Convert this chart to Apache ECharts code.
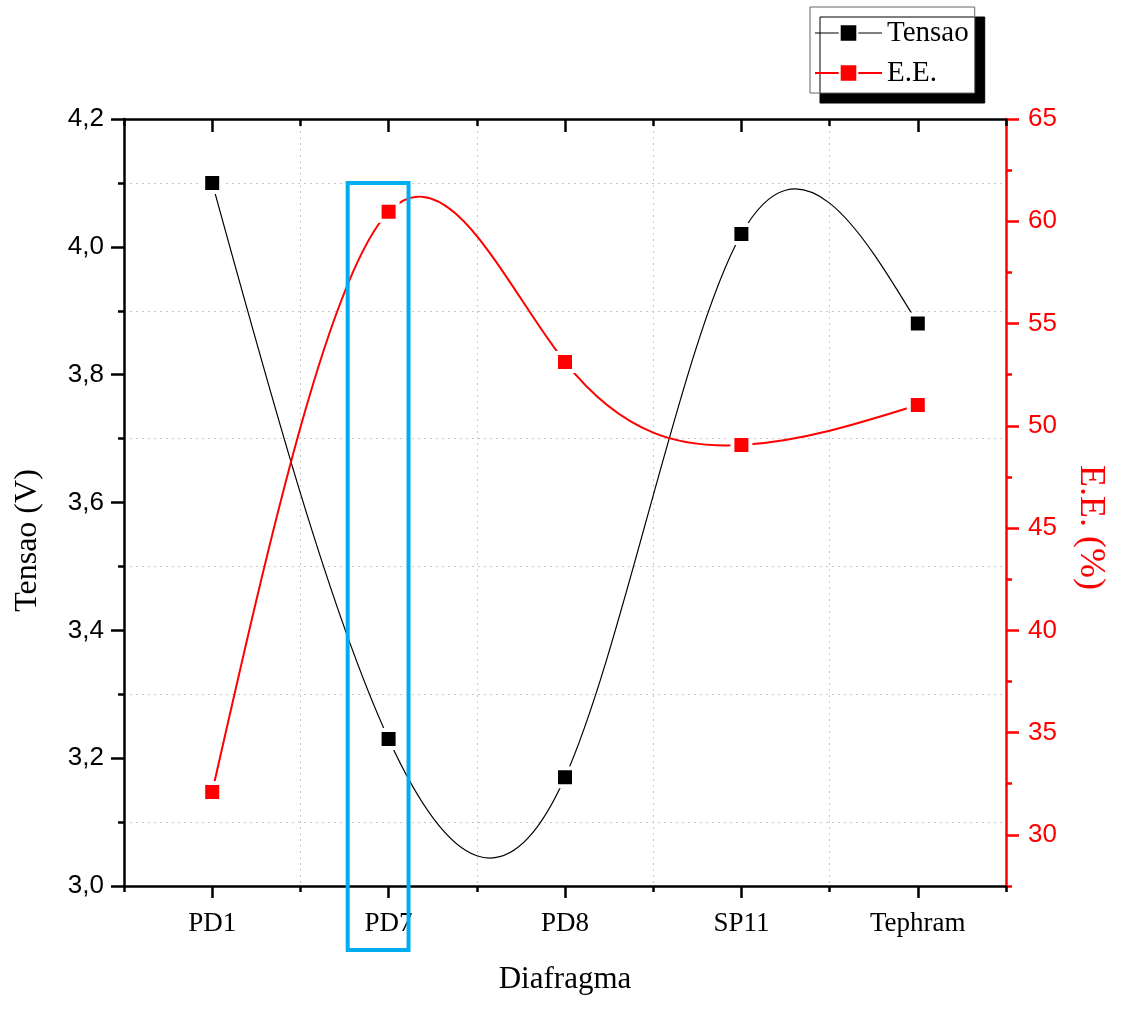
<!DOCTYPE html>
<html>
<head>
<meta charset="utf-8">
<script src="https://cdn.jsdelivr.net/npm/echarts@6/dist/echarts.min.js"></script>
<style>
html,body{margin:0;padding:0;background:#fff;}
#chart{width:1121px;height:1012px;}
</style>
</head>
<body>
<div id="chart"></div>
<script>
const categories = ['PD1', 'PD7', 'PD8', 'SP11', 'Tephram'];
const tensao = [4.10, 3.23, 3.17, 4.02, 3.88];
const ee = [32.1, 60.46, 53.12, 49.06, 51.02];
const eeMajorTicks = [30, 35, 40, 45, 50, 55, 60, 65];

const serif = 'Liberation Serif';
const sans = 'Liberation Sans';
const chart = echarts.init(document.getElementById('chart'), null, {renderer: 'canvas'});

// natural cubic spline (Origin-style) through pixel points -> bezier segments
function splineSegments(pts) {
  const n = pts.length;
  const h = [], M = new Array(n).fill(0);
  for (let i = 0; i < n - 1; i++) h.push(pts[i + 1][0] - pts[i][0]);
  if (n > 2) {
    const a = [], b = [], c = [], d = [];
    for (let i = 1; i < n - 1; i++) {
      a.push(h[i - 1]);
      b.push(2 * (h[i - 1] + h[i]));
      c.push(h[i]);
      d.push(6 * ((pts[i + 1][1] - pts[i][1]) / h[i] - (pts[i][1] - pts[i - 1][1]) / h[i - 1]));
    }
    const m = b.length;
    for (let i = 1; i < m; i++) {
      const w = a[i] / b[i - 1];
      b[i] -= w * c[i - 1];
      d[i] -= w * d[i - 1];
    }
    const sol = new Array(m);
    sol[m - 1] = d[m - 1] / b[m - 1];
    for (let i = m - 2; i >= 0; i--) sol[i] = (d[i] - c[i] * sol[i + 1]) / b[i];
    for (let i = 0; i < m; i++) M[i + 1] = sol[i];
  }
  const segs = [];
  for (let i = 0; i < n - 1; i++) {
    const hi = h[i];
    const s = (pts[i + 1][1] - pts[i][1]) / hi;
    const d0 = s - hi * (2 * M[i] + M[i + 1]) / 6;
    const d1 = s + hi * (M[i] + 2 * M[i + 1]) / 6;
    segs.push({
      x1: pts[i][0], y1: pts[i][1],
      cpx1: pts[i][0] + hi / 3, cpy1: pts[i][1] + d0 * hi / 3,
      cpx2: pts[i + 1][0] - hi / 3, cpy2: pts[i + 1][1] - d1 * hi / 3,
      x2: pts[i + 1][0], y2: pts[i + 1][1]
    });
  }
  return segs;
}

function splineRenderer(values, color, width) {
  return function (params, api) {
    const i = params.dataIndex;
    if (i >= values.length - 1) return null;
    const pts = values.map((v, j) => api.coord([j, v]));
    const seg = splineSegments(pts)[i];
    return {
      type: 'bezierCurve',
      shape: seg,
      style: {stroke: color, lineWidth: width, fill: null}
    };
  };
}

const option = {
  animation: false,
  backgroundColor: '#fff',
  grid: {left: 124, right: 115, top: 119, bottom: 126, containLabel: false},
  legend: {
    orient: 'vertical',
    left: 810, top: 7,
    padding: [11, 6, 5, 4],
    itemGap: 10,
    itemWidth: 67, itemHeight: 22,
    backgroundColor: '#fff',
    borderColor: '#666', borderWidth: 1,
    shadowColor: '#000', shadowBlur: 0, shadowOffsetX: 10, shadowOffsetY: 10,
    textStyle: {fontFamily: serif, fontSize: 29, color: '#000', lineHeight: 30},
    data: [
      {name: 'Tensao', lineStyle: {color: '#000', width: 1.2, opacity: 1}},
      {name: 'E.E.', lineStyle: {color: '#ff0000', width: 2, opacity: 1}}
    ]
  },
  xAxis: [
    {
      type: 'category', data: categories, position: 'bottom', boundaryGap: true,
      name: 'Diafragma', nameLocation: 'middle', nameGap: 78,
      nameTextStyle: {fontFamily: serif, fontSize: 31, color: '#000'},
      axisLine: {show: true, lineStyle: {color: '#000', width: 2.5}},
      axisTick: {show: true, alignWithLabel: false, length: 6, lineStyle: {color: '#000', width: 2.5}},
      axisLabel: {fontFamily: serif, fontSize: 27, color: '#000', margin: 24},
      splitLine: {show: true, lineStyle: {color: '#c8c8c8', type: [2, 4], width: 1}}
    },
    {
      type: 'category', data: categories, position: 'bottom', boundaryGap: true,
      axisLine: {show: false},
      axisTick: {show: true, alignWithLabel: true, length: 12, lineStyle: {color: '#000', width: 2.5}},
      axisLabel: {show: false},
      splitLine: {show: false}
    },
    {
      type: 'category', data: categories, position: 'top', boundaryGap: true,
      axisLine: {show: true, lineStyle: {color: '#000', width: 2.5}},
      axisTick: {show: true, inside: true, alignWithLabel: true, length: 13, lineStyle: {color: '#000', width: 2.5}},
      axisLabel: {show: false},
      splitLine: {show: false}
    },
    {
      type: 'category', data: categories, position: 'top', boundaryGap: true,
      axisLine: {show: false},
      axisTick: {show: true, inside: true, alignWithLabel: false, length: 7, lineStyle: {color: '#000', width: 2.5}},
      axisLabel: {show: false},
      splitLine: {show: false}
    }
  ],
  yAxis: [
    {
      type: 'value', position: 'left', min: 3.0, max: 4.2, interval: 0.2,
      name: 'Tensao (V)', nameLocation: 'middle', nameGap: 80, nameRotate: 90,
      nameTextStyle: {fontFamily: serif, fontSize: 32, color: '#000', padding: [0, 76, 0, 0]},
      axisLine: {show: true, lineStyle: {color: '#000', width: 2.5}},
      axisTick: {show: true, length: 13, lineStyle: {color: '#000', width: 2.5}},
      minorTick: {show: true, splitNumber: 2, length: 6, lineStyle: {color: '#000', width: 2.5}},
      axisLabel: {fontFamily: sans, fontSize: 26, color: '#000', margin: 20,
        formatter: v => v.toFixed(1).replace('.', ',')},
      splitLine: {show: false},
      minorSplitLine: {show: true, lineStyle: {color: '#c8c8c8', type: [2, 4], width: 1}}
    },
    {
      type: 'value', position: 'right', min: 27.5, max: 65,
      name: 'E.E. (%)', nameLocation: 'middle', nameGap: 66, nameRotate: -90,
      nameTextStyle: {fontFamily: serif, fontSize: 36, color: '#ff0000', padding: [0, 0, 0, 50]},
      axisLine: {show: true, lineStyle: {color: '#ff0000', width: 2.5}},
      axisTick: {show: true, length: 13, customValues: eeMajorTicks, lineStyle: {color: '#ff0000', width: 2.5}},
      axisLabel: {fontFamily: sans, fontSize: 26, color: '#ff0000', margin: 22, customValues: eeMajorTicks},
      splitLine: {show: false}
    },
    {
      type: 'value', position: 'right', min: 27.5, max: 65, interval: 2.5,
      axisLine: {show: false},
      axisTick: {show: true, length: 6, lineStyle: {color: '#ff0000', width: 2.5}},
      axisLabel: {show: false},
      splitLine: {show: false}
    }
  ],
  series: [
    {
      name: 'Tensao curve', type: 'custom', xAxisIndex: 0, yAxisIndex: 0,
      data: tensao.map((v, i) => [i, v]),
      renderItem: splineRenderer(tensao, '#000', 1.2),
      z: 2, silent: true
    },
    {
      name: 'E.E. curve', type: 'custom', xAxisIndex: 0, yAxisIndex: 1,
      data: ee.map((v, i) => [i, v]),
      renderItem: splineRenderer(ee, '#ff0000', 2),
      z: 2, silent: true
    },
    {
      name: 'Tensao', type: 'line', xAxisIndex: 0, yAxisIndex: 0,
      data: tensao,
      symbol: 'rect', symbolSize: 18,
      lineStyle: {color: '#000', width: 1.2, opacity: 0},
      itemStyle: {color: '#000', borderColor: '#fff', borderWidth: 4},
      z: 3
    },
    {
      name: 'E.E.', type: 'line', xAxisIndex: 0, yAxisIndex: 1,
      data: ee,
      symbol: 'rect', symbolSize: 18,
      lineStyle: {color: '#ff0000', width: 2, opacity: 0},
      itemStyle: {color: '#ff0000', borderColor: '#fff', borderWidth: 4},
      z: 3
    }
  ]
};
chart.setOption(option);

// highlight box around PD7, positioned through the axes' scales
function placeBox() {
  const idx = categories.indexOf('PD7');
  const c0 = chart.convertToPixel({xAxisIndex: 0}, idx);
  const c1 = chart.convertToPixel({xAxisIndex: 0}, idx + 1);
  const band = c1 - c0;
  const xL = c0 - 0.232 * band;
  const xR = c0 + 0.113 * band;
  const yT = chart.convertToPixel({yAxisIndex: 0}, 4.1);
  const yB = chart.convertToPixel({yAxisIndex: 0}, 2.9);
  chart.setOption({
    graphic: [{
      type: 'rect', z: 100,
      shape: {x: xL, y: yT, width: xR - xL, height: yB - yT},
      style: {fill: 'none', stroke: '#00aeef', lineWidth: 4}
    }]
  });
}
placeBox();
</script>
</body>
</html>
